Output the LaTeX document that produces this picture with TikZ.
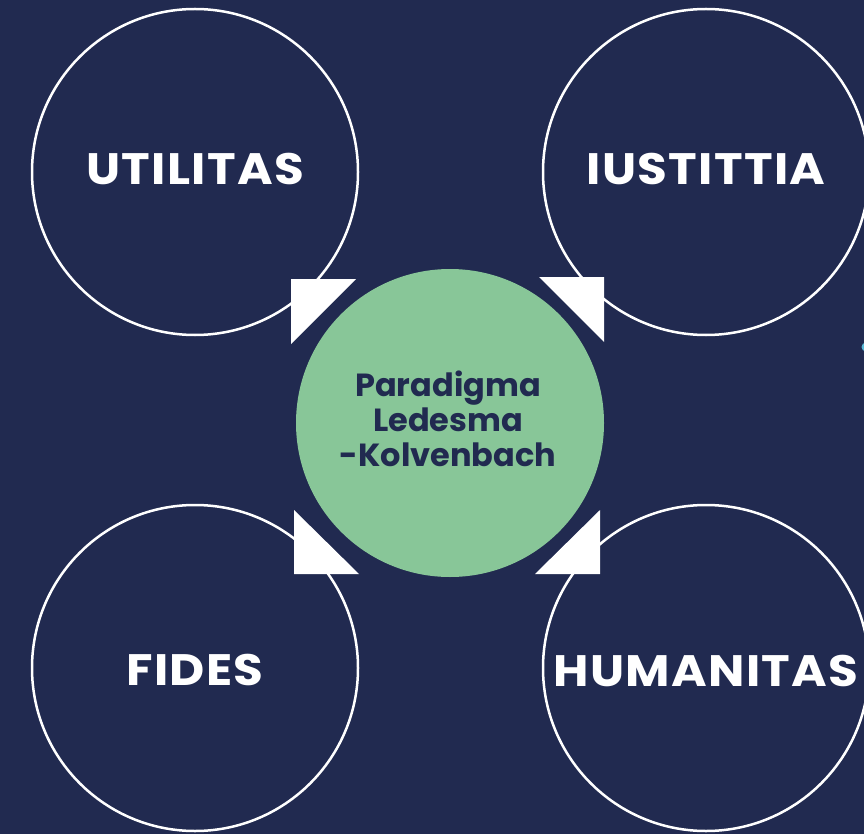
\documentclass[tikz,border=0pt]{standalone}
\usepackage{fontspec}
\usepackage{xcolor}
\setmainfont{Poppins}
\newfontfamily\ringfont[LetterSpace=3,FakeStretch=1.1]{Poppins}
\definecolor{navy}{RGB}{33,42,80}
\definecolor{coregreen}{RGB}{136,198,152}
\definecolor{dotcyan}{RGB}{86,184,214}

\begin{document}
\begin{tikzpicture}[x=1pt,y=-1pt,
 ring/.style={circle,draw=white,line width=2.5pt,minimum size=326pt,inner sep=0pt},
 word/.style={text=white,font=\ringfont\bfseries\fontsize{44}{44}\selectfont},
 core/.style={circle,fill=coregreen,minimum size=308pt,inner sep=0pt},
 coretext/.style={text=navy,align=center,font=\bfseries\fontsize{32}{35}\selectfont}]
\fill[navy] (0,0) rectangle (864,834);
\useasboundingbox (0,0) rectangle (864,834);
\foreach \x/\y/\ty/\name/\word in {195/172/169/utilitas/UTILITAS,706/172/169/iustitia/IUSTITTIA,195/668/670/fides/FIDES,706/668/671/humanitas/HUMANITAS}{
 \node[ring] (\name) at (\x,\y) {};
 \node[word] (\name-text) at (\x,\ty) {\word};
 }

 \node[core] (paradigma) at (450,423) {};
 \node[coretext] (paradigma-text) at (448,419) {Paradigma\\Ledesma\\-Kolvenbach};

 \fill[white] (291,279) -- (356,279) -- (291,344) -- cycle;
 \fill[white] (539,277) -- (604,277) -- (604,342) -- cycle;
 \fill[white] (294,510) -- (294,574) -- (359,574) -- cycle;
 \fill[white] (600,510) -- (600,574) -- (535,574) -- cycle;

 \fill[dotcyan] (866,347) circle (4.5);
\end{tikzpicture}
\end{document}
